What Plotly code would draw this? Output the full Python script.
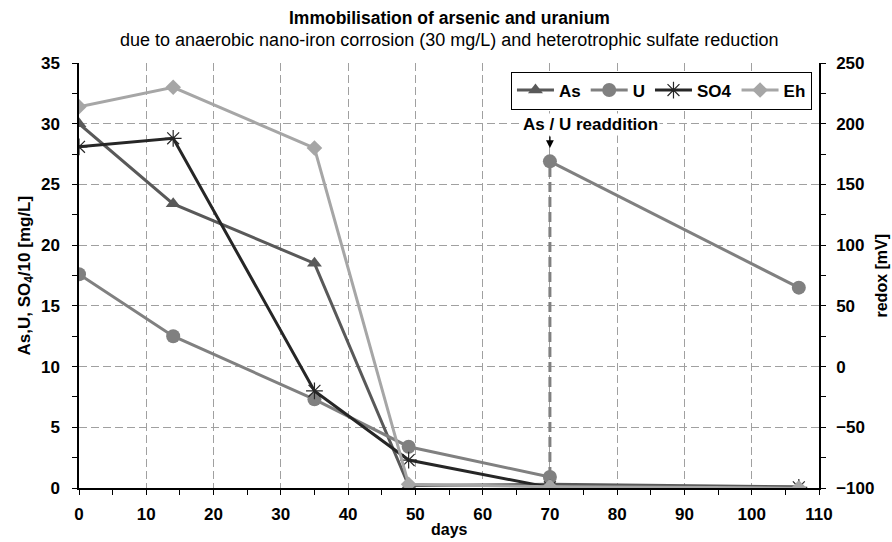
import plotly.graph_objects as go

days = [0, 14, 35, 49, 70, 107]
as_vals = [30.0, 23.4, 18.5, 0.2, 0.3, 0.1]
u_days = [0, 14, 35, 49, 70]
u_vals = [17.6, 12.5, 7.3, 3.4, 0.9]
u_re_days = [70, 107]
u_re_vals = [26.9, 16.5]
so4_vals = [28.1, 28.8, 8.0, 2.3, 0.05, 0.05]
eh_vals = [214, 230, 180, -97, -99, -100]
readd_x = [70, 70]
readd_y = [0.9, 26.9]

FONT = "Arial, Liberation Sans, sans-serif"
C_AS = "#595959"
C_U = "#808080"
C_SO4 = "#262626"
C_EH = "#a6a6a6"

fig = go.Figure()

fig.add_trace(go.Scatter(x=readd_x, y=readd_y, mode="lines",
                         line=dict(color=C_U, width=3, dash="10px,5px"),
                         showlegend=False, hoverinfo="skip"))
fig.add_trace(go.Scatter(x=days, y=eh_vals, name="Eh", yaxis="y2", mode="lines+markers",
                         line=dict(color=C_EH, width=3), legendrank=4,
                         marker=dict(symbol="diamond", size=12, color=C_EH)))
fig.add_trace(go.Scatter(x=days, y=as_vals, name="As", mode="lines+markers",
                         line=dict(color=C_AS, width=3), legendrank=1,
                         marker=dict(symbol="triangle-up", size=13, color=C_AS)))
fig.add_trace(go.Scatter(x=u_days, y=u_vals, name="U", mode="lines+markers",
                         line=dict(color=C_U, width=3), legendrank=2,
                         marker=dict(symbol="circle", size=14, color=C_U)))
fig.add_trace(go.Scatter(x=u_re_days, y=u_re_vals, name="U", mode="lines+markers",
                         line=dict(color=C_U, width=3), showlegend=False,
                         marker=dict(symbol="circle", size=14, color=C_U)))
fig.add_trace(go.Scatter(x=days, y=so4_vals, name="SO4", mode="lines+markers",
                         line=dict(color=C_SO4, width=3), legendrank=3,
                         marker=dict(symbol="asterisk-open", size=14,
                                     line=dict(color=C_SO4, width=1.2))))

TICKFONT = dict(family=FONT, size=17, color="black", weight="bold")
axis_common = dict(showline=True, linecolor="black", linewidth=1.5,
                   ticks="outside", ticklen=5, tickcolor="black", tickwidth=1,
                   tickfont=TICKFONT, zeroline=False, automargin=False)
GRID = dict(showgrid=True, gridcolor="#a0a0a0", gridwidth=1, griddash="8px,4px")

fig.update_layout(
    width=892, height=542,
    paper_bgcolor="white", plot_bgcolor="white",
    margin=dict(l=79, r=73, t=63, b=54, autoexpand=False),
    font=dict(family=FONT, color="black"),
    xaxis=dict(range=[0, 110], dtick=10, tick0=0, ticklabelstandoff=5, **axis_common, **GRID,
               minor=dict(dtick=5, ticks="outside", ticklen=5, tickcolor="black", showgrid=False)),
    yaxis=dict(range=[0, 35], dtick=5, tick0=0, ticklabelstandoff=9, **axis_common, **GRID,
               minor=dict(dtick=2.5, ticks="outside", ticklen=5, tickcolor="black", showgrid=False)),
    yaxis2=dict(range=[-100, 250], dtick=50, tick0=-100, overlaying="y", side="right",
                ticklabelstandoff=7, **axis_common, showgrid=False,
                minor=dict(dtick=25, ticks="outside", ticklen=5, tickcolor="black")),
    legend=dict(orientation="h", x=0.9905, y=0.98, xanchor="right", yanchor="top",
                bordercolor="black", borderwidth=1, bgcolor="white",
                font=dict(family=FONT, size=17, color="black", weight="bold"),
                itemwidth=37, tracegroupgap=0),
    annotations=[
        dict(text="<b>Immobilisation of arsenic and uranium</b>", xref="paper", yref="paper",
             x=0.5, y=(488 - 19) / 424.5, xanchor="center", yanchor="middle", showarrow=False,
             font=dict(family=FONT, size=17.5)),
        dict(text="due to anaerobic nano-iron corrosion (30 mg/L) and heterotrophic sulfate reduction",
             xref="paper", yref="paper", x=0.5, y=(488 - 41) / 424.5, xanchor="center",
             yanchor="middle", showarrow=False, font=dict(family=FONT, size=18)),
        dict(text="<b>As,U, SO<sub>4</sub>/10 [mg/L]</b>", xref="paper", yref="paper",
             x=(25 - 79) / 740, y=0.5, xanchor="center", yanchor="middle", textangle=-90,
             showarrow=False, font=dict(family=FONT, size=17)),
        dict(text="<b>redox [mV]</b>", xref="paper", yref="paper",
             x=(881 - 79) / 740, y=0.5, xanchor="center", yanchor="middle", textangle=-90,
             showarrow=False, font=dict(family=FONT, size=16)),
        dict(text="<b>days</b>", xref="paper", yref="paper",
             x=0.5, y=(488 - 529) / 424.5, xanchor="center", yanchor="middle",
             showarrow=False, font=dict(family=FONT, size=16)),
        dict(x=70, y=28.0, xref="x", yref="y", text="", showarrow=True,
             ax=0, ay=-13, arrowhead=2, arrowsize=1.2, arrowwidth=1.3, arrowcolor="black"),
        dict(x=70, y=29.9, xref="x", yref="y", text="<b>As / U readdition</b>", showarrow=False,
             xanchor="left", xshift=-29, yanchor="middle", bgcolor="white",
             font=dict(family=FONT, size=17, color="black")),
    ],
)

fig.write_html("out.html", config={"displayModeBar": False},
               post_script="document.body.style.margin='0px';document.body.style.overflow='hidden';")
